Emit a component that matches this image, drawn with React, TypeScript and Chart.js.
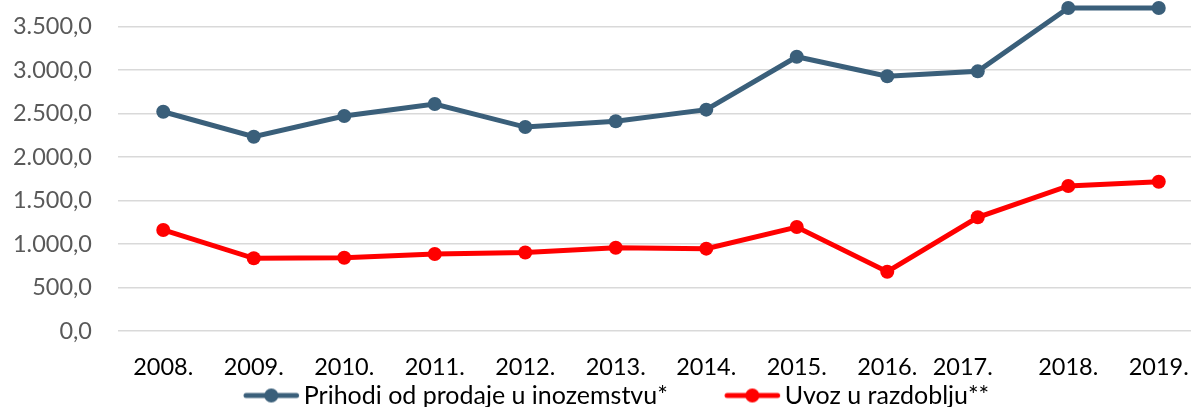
import React, { useEffect, useRef } from "react";
import { Chart, registerables } from "chart.js";

Chart.register(...registerables);

const categories = ["2008.", "2009.", "2010.", "2011.", "2012.", "2013.", "2014.", "2015.", "2016.", "2017.     ", "2018.", "2019."];
const prihodi = [2522, 2235, 2473, 2611, 2346, 2412, 2546, 3155, 2930, 2987, 3715, 3715];
const uvoz = [1162, 836, 843, 886, 903, 958, 947, 1196, 682, 1308, 1668, 1717];
const yTicks = [0, 500, 1000, 1500, 2000, 2500, 3000, 3500];
const seriesNames = ["Prihodi od prodaje u inozemstvu*", "Uvoz u razdoblju**"];
const seriesColors = ["#3A5F7A", "#FF0000"];

const FONT = "Lato";
const AXIS_SIZE = 23.5;
const LEGEND_SIZE = 25;
const CANVAS_W = 1211;
const CANVAS_H = 418;
const LEGEND_BOX_W = 102.5;

function fmt(v: number): string {
  const s = Math.round(v).toString().replace(/\B(?=(\d{3})+(?!\d))/g, ".");
  return s + ",0";
}

function makeLegendIcon(color: string): HTMLCanvasElement {
  const c = document.createElement("canvas");
  c.width = 120;
  c.height = 18;
  const ctx = c.getContext("2d")!;
  ctx.strokeStyle = color;
  ctx.lineWidth = 5;
  ctx.lineCap = "round";
  ctx.beginPath();
  ctx.moveTo(66, 9);
  ctx.lineTo(116.5, 9);
  ctx.stroke();
  ctx.fillStyle = color;
  ctx.beginPath();
  ctx.arc(91.25, 9, 7, 0, Math.PI * 2);
  ctx.fill();
  return c;
}

const legendShift = {
  id: "legendShift",
  afterUpdate(chart: any) {
    const lg = chart.legend;
    if (!lg) return;
    lg.left -= 16.5;
    lg.right -= 16.5;
  },
};

export default function App() {
  const ref = useRef<HTMLCanvasElement | null>(null);

  useEffect(() => {
    if (!ref.current) return;
    const icons = seriesColors.map((c) => makeLegendIcon(c));
    const mkDs = (i: number, data: number[]) => ({
      label: seriesNames[i],
      data,
      borderColor: seriesColors[i],
      backgroundColor: seriesColors[i],
      pointBackgroundColor: seriesColors[i],
      pointBorderWidth: 0,
      pointRadius: 7,
      borderWidth: 5,
      tension: 0,
      clip: false as any,
    });
    const chart = new Chart(ref.current, {
      type: "line",
      data: {
        labels: categories,
        datasets: [mkDs(0, prihodi), mkDs(1, uvoz)],
      },
      options: {
        responsive: false,
        animation: false,
        events: [],
        devicePixelRatio: 1,
        layout: { padding: 0 },
        scales: {
          x: {
            type: "category",
            offset: true,
            grid: { display: false },
            border: { display: false },
            ticks: {
              color: "#000000",
              font: { family: FONT, size: AXIS_SIZE },
              padding: 14,
              maxRotation: 0,
              autoSkip: false,
            },
            afterFit: (s: any) => {
              s.height = 50;
            },
          },
          y: {
            min: 0,
            max: 3727,
            afterBuildTicks: (s: any) => {
              s.ticks = yTicks.map((v) => ({ value: v }));
            },
            afterFit: (s: any) => {
              s.width = 118;
              s.paddingTop = 0;
              s.paddingBottom = 0;
            },
            grid: { color: "#D9D9D9", lineWidth: 1.5, drawTicks: false },
            border: { display: false },
            ticks: {
              color: "#595959",
              font: { family: FONT, size: AXIS_SIZE },
              padding: 26,
              callback: (v: any) => fmt(Number(v)),
            },
          },
        },
        plugins: {
          tooltip: { enabled: false },
          title: { display: false },
          legend: {
            display: true,
            position: "bottom",
            labels: {
              usePointStyle: true,
              pointStyleWidth: LEGEND_BOX_W,
              padding: 2,
              color: "#000000",
              font: { family: FONT, size: LEGEND_SIZE },
              generateLabels: (ch: any) =>
                ch.data.datasets.map((ds: any, i: number) => ({
                  text: ds.label,
                  fillStyle: seriesColors[i],
                  strokeStyle: seriesColors[i],
                  fontColor: "#000000",
                  lineWidth: 0,
                  pointStyle: icons[i],
                  hidden: false,
                  datasetIndex: i,
                })),
            },
          },
        },
      },
      plugins: [legendShift],
    });
    return () => chart.destroy();
  }, []);

  return (
    <div
      style={{
        position: "fixed",
        left: 0,
        top: 0,
        width: "1191px",
        height: "407px",
        overflow: "hidden",
        background: "#ffffff",
      }}
    >
      <canvas ref={ref} width={CANVAS_W} height={CANVAS_H} style={{ display: "block" }} />
    </div>
  );
}
